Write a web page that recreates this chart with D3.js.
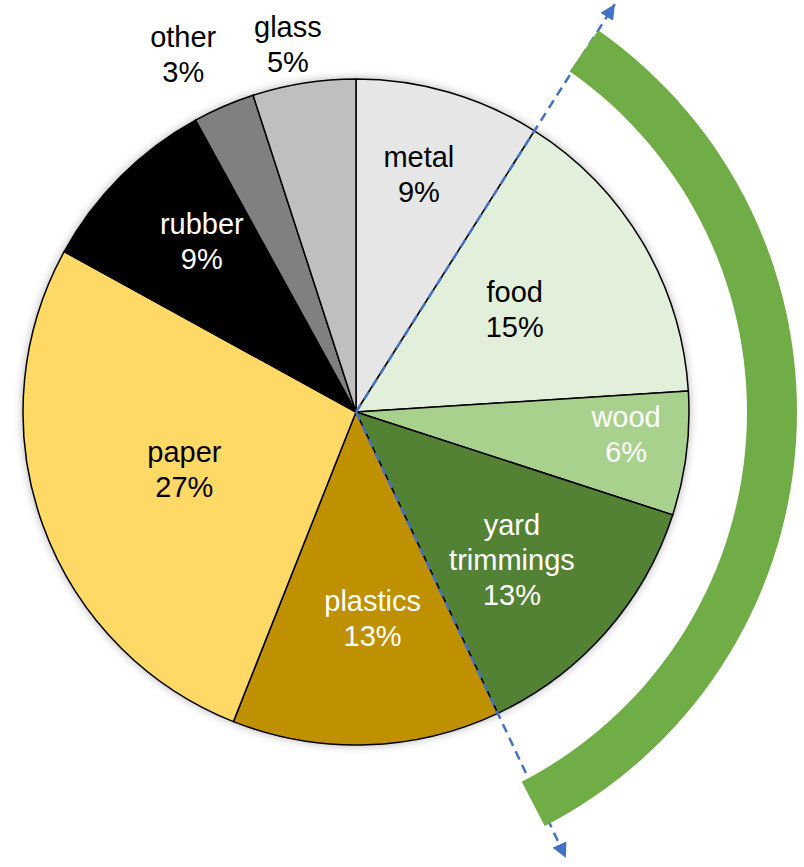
<!DOCTYPE html>
<html>
<head>
<meta charset="utf-8">
<script src="https://cdn.jsdelivr.net/npm/d3@7"></script>
<style>
  html, body { margin: 0; padding: 0; background: #ffffff; }
  svg { display: block; }
</style>
</head>
<body>
<svg id="chart" width="804" height="867"></svg>
<script>
// Composition of municipal solid waste, percent by weight
const categories = ["metal", "food", "wood", "yard trimmings", "plastics", "paper", "rubber", "other", "glass"];
const shares = [9, 15, 6, 13, 13, 27, 9, 3, 5];
const sliceColors = ["#E7E6E6", "#E2EFDA", "#A9D18E", "#548235", "#BF9000", "#FFD966", "#000000", "#808080", "#BFBFBF"];
const labelColors = ["#000", "#000", "#fff", "#fff", "#fff", "#000", "#fff", "#000", "#000"];
// Label placement: distance from the centre and angular nudge (degrees) from the slice mid-angle
const labelRadius = [246, 189, 271, 215, 207, 181, 230, 397, 374];
const labelNudge = [-1.4, -2.3, -2.5, 2.1, -2.8, 1.3, 2.9, -2.4, -1.5];

const width = 804, height = 867;
const cx = 356, cy = 412, radius = 333;
const fontSize = 29, lineGap = 35;

const svg = d3.select("#chart");
const deg = Math.PI / 180;

// Soft halo around the pie
const defs = svg.append("defs");
const glow = defs.append("filter").attr("id", "halo")
  .attr("x", "-10%").attr("y", "-10%").attr("width", "120%").attr("height", "120%");
glow.append("feGaussianBlur").attr("stdDeviation", 4);

defs.append("marker")
  .attr("id", "arrowHead")
  .attr("viewBox", "0 0 10 10")
  .attr("refX", 10).attr("refY", 5)
  .attr("markerWidth", 15).attr("markerHeight", 15)
  .attr("markerUnits", "userSpaceOnUse")
  .attr("orient", "auto")
  .append("path")
  .attr("d", "M0,0 L10,5 L0,10 Z")
  .attr("fill", "#4472C4");

const pie = d3.pie().sort(null).value(d => d)(shares);
const arcGen = d3.arc().innerRadius(0).outerRadius(radius);

const g = svg.append("g").attr("transform", `translate(${cx},${cy})`);

g.append("circle")
  .attr("r", radius + 1)
  .attr("fill", "#7f7f7f")
  .attr("opacity", 0.55)
  .attr("filter", "url(#halo)");

g.selectAll("path.slice")
  .data(pie)
  .join("path")
  .attr("class", "slice")
  .attr("d", arcGen)
  .attr("fill", (d, i) => sliceColors[i])
  .attr("stroke", "#000")
  .attr("stroke-width", 1.5)
  .attr("stroke-linejoin", "round");

// Slice labels
pie.forEach((d, i) => {
  const mid = (d.startAngle + d.endAngle) / 2 + labelNudge[i] * deg;
  const lx = labelRadius[i] * Math.sin(mid);
  const ly = -labelRadius[i] * Math.cos(mid);
  const lines = categories[i].split(" ").concat([shares[i] + "%"]);
  const t = g.append("text")
    .attr("text-anchor", "middle")
    .attr("font-family", "'Liberation Sans', Arial, sans-serif")
    .attr("font-size", fontSize)
    .attr("fill", labelColors[i]);
  lines.forEach((ln, k) => {
    t.append("tspan")
      .attr("x", lx)
      .attr("y", ly + (k - (lines.length - 1) / 2) * lineGap + 10)
      .text(ln);
  });
});

// Bracket arc spanning food, wood and yard trimmings
const bracket = d3.arc()
  .innerRadius(416).outerRadius(466)
  .startAngle(35 * deg).endAngle(152.7 * deg);
svg.append("path")
  .attr("transform", `translate(${cx - 25},${cy})`)
  .attr("d", bracket())
  .attr("fill", "#70AD47");

// Dashed arrows along the group's boundaries
const rays = [
  { angle: pie[0].endAngle, length: 483 },
  { angle: pie[3].endAngle, length: 493 }
];
g.selectAll("line.ray")
  .data(rays)
  .join("line")
  .attr("class", "ray")
  .attr("x1", 0).attr("y1", 0)
  .attr("x2", d => d.length * Math.sin(d.angle))
  .attr("y2", d => -d.length * Math.cos(d.angle))
  .attr("stroke", "#4472C4")
  .attr("stroke-width", 2.5)
  .attr("stroke-dasharray", "9,6")
  .attr("marker-end", "url(#arrowHead)");
</script>
</body>
</html>
